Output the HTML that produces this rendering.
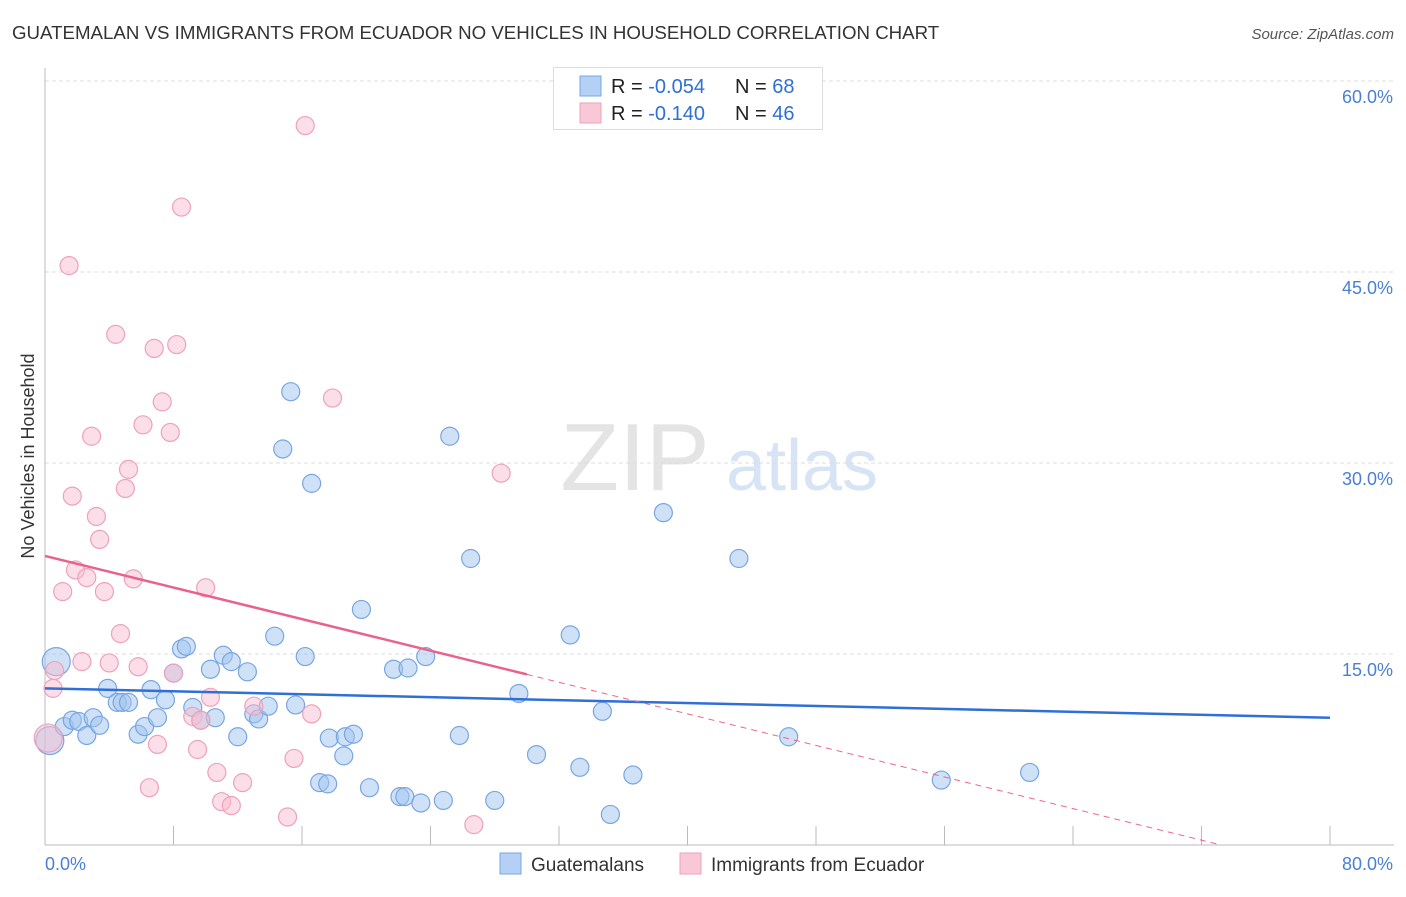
<!DOCTYPE html>
<html><head><meta charset="utf-8"><style>
body{margin:0;background:#fff;font-family:"Liberation Sans",sans-serif}
svg text{font-family:"Liberation Sans",sans-serif}
</style></head><body>
<svg id="c" width="1406" height="892"></svg>
<script>
const blueX=[0.7,0.3,1.2,1.7,2.1,2.6,3.0,3.4,3.9,4.5,4.8,5.2,5.8,6.2,6.6,7.0,7.5,8.0,8.5,8.8,9.2,9.7,10.3,10.6,11.1,11.6,12.0,12.6,13.0,13.3,13.9,14.3,14.8,15.3,15.6,16.2,16.6,17.1,17.6,17.7,18.6,18.7,19.2,19.7,20.2,21.7,22.1,22.4,22.6,23.4,23.7,24.8,25.2,25.8,26.5,28.0,29.5,30.6,32.7,33.3,34.7,35.2,36.6,38.5,43.2,46.3,55.8,61.3];
const blueY=[14.4,8.2,9.3,9.8,9.7,8.6,10.0,9.4,12.3,11.2,11.2,11.2,8.7,9.3,12.2,10.0,11.4,13.5,15.4,15.6,10.8,9.8,13.8,10.0,14.9,14.4,8.5,13.6,10.3,9.9,10.9,16.4,31.1,35.6,11.0,14.8,28.4,4.9,4.8,8.4,7.0,8.5,8.7,18.5,4.5,13.8,3.8,3.8,13.9,3.3,14.8,3.5,32.1,8.6,22.5,3.5,11.9,7.1,16.5,6.1,10.5,2.4,5.5,26.1,22.5,8.5,5.1,5.7];
const blueBig=[0,1];
const pinkX=[16.2,8.5,1.5,4.4,6.8,8.2,7.3,17.9,2.9,6.1,7.8,5.2,28.4,1.7,5.0,3.2,3.4,1.9,2.6,1.1,3.7,5.5,10.0,4.7,2.3,4.0,5.8,8.0,0.6,0.5,10.3,13.0,16.6,9.2,9.7,7.0,9.5,15.5,10.7,12.3,6.5,11.0,11.6,15.1,26.7,0.2];
const pinkY=[56.5,50.1,45.5,40.1,39.0,39.3,34.8,35.1,32.1,33.0,32.4,29.5,29.2,27.4,28.0,25.8,24.0,21.6,21.0,19.9,19.9,20.9,20.2,16.6,14.4,14.3,14.0,13.5,13.7,12.3,11.6,10.9,10.3,10.1,9.8,7.9,7.5,6.8,5.7,4.9,4.5,3.4,3.1,2.2,1.6,8.4];
const pinkBig=[45];
const blueTrend=[12.3,-0.0288];
const pinkTrend=[22.7,-0.31];
const yTicks=[15,30,45,60];
const yTickLabels=["15.0%","30.0%","45.0%","60.0%"];
const xTicks=[0,8,16,24,32,40,48,56,64,72,80];

const NS="http://www.w3.org/2000/svg";
const svg=document.getElementById('c');
const X=v=>45+v*(1285/80);
const Y=v=>845-v*(764/60);
function el(t,a,p){const e=document.createElementNS(NS,t);for(const k in a)e.setAttribute(k,a[k]);(p||svg).appendChild(e);return e;}

let t=el('text',{x:12,y:39,'font-size':18.7,fill:'#333'});t.textContent='GUATEMALAN VS IMMIGRANTS FROM ECUADOR NO VEHICLES IN HOUSEHOLD CORRELATION CHART';

t=el('text',{x:1394,y:39,'font-size':15,fill:'#555','text-anchor':'end','font-style':'italic'});t.textContent='Source: ZipAtlas.com';


t=el('text',{x:635,y:490,'font-size':96,fill:'#e4e4e4','text-anchor':'middle','font-family':'Liberation Serif'});t.textContent='ZIP';

t=el('text',{x:802,y:490,'font-size':72,fill:'#d6e4f6','text-anchor':'middle'});t.textContent='atlas';


yTicks.forEach((v,i)=>{
  const g=el('line',{x1:45,x2:1394,y1:Y(v),y2:Y(v),stroke:'#ddd','stroke-dasharray':'4,3'});
  
  const l=el('text',{x:1393,y:Y(v)+22,'font-size':18,fill:'#4a7fd4','text-anchor':'end'});l.textContent=yTickLabels[i];
  
});
let a=el('line',{x1:45,x2:45,y1:68,y2:845,stroke:'#bbb'});
a=el('line',{x1:45,x2:1394,y1:845,y2:845,stroke:'#bbb'});
xTicks.forEach(v=>{if(v===0)return;const k=el('line',{x1:X(v),x2:X(v),y1:826,y2:845,stroke:'#bbb'});
  });
t=el('text',{x:45,y:870,'font-size':18,fill:'#4a7fd4'});t.textContent='0.0%';

t=el('text',{x:1393,y:870,'font-size':18,fill:'#4a7fd4','text-anchor':'end'});t.textContent='80.0%';

t=el('text',{x:0,y:0,'font-size':18,fill:'#333','text-anchor':'middle',transform:'translate(34,456) rotate(-90)'});t.textContent='No Vehicles in Household';


function pts(xs,ys,big,fill,stroke,name){
  xs.forEach((x,i)=>{const c=el('circle',{cx:X(x),cy:Y(ys[i]),r:big.includes(i)?14:9,fill:fill,stroke:stroke,'stroke-width':1.2});
    });
}
pts(blueX,blueY,blueBig,'rgba(160,196,240,0.5)','#78a6e2','guatemalan-point');
pts(pinkX,pinkY,pinkBig,'rgba(248,190,208,0.5)','#eea2ba','ecuador-point');

let ln=el('line',{x1:X(0),y1:Y(blueTrend[0]),x2:X(80),y2:Y(blueTrend[0]+blueTrend[1]*80),stroke:'#2f6fd6','stroke-width':2.5});

ln=el('line',{x1:X(0),y1:Y(pinkTrend[0]),x2:X(30),y2:Y(pinkTrend[0]+pinkTrend[1]*30),stroke:'#e8628c','stroke-width':2.5});

const xEnd=-pinkTrend[0]/pinkTrend[1];
ln=el('line',{x1:X(30),y1:Y(pinkTrend[0]+pinkTrend[1]*30),x2:X(xEnd),y2:Y(0),stroke:'#e8628c','stroke-width':1,'stroke-dasharray':'6,5'});


const lg=el('g',{});
el('rect',{x:553.5,y:67.5,width:269,height:62,fill:'#fff',stroke:'#ddd'},lg);
[['#b5d0f5','#78a6e2','-0.054','68',86],['#f9c8d6','#eea2ba','-0.140','46',113]].forEach(r=>{
  const s=el('rect',{x:580,y:r[4]-10,width:21,height:20,fill:r[0],stroke:r[1]},lg);
  
  const tx=el('text',{x:611,y:r[4]+7,'font-size':20,fill:'#222'},lg);
  tx.innerHTML='R = <tspan fill="#2f6fd6">'+(r[2]==='-0.140'?' ':'')+r[2]+'</tspan><tspan x="735">N = </tspan><tspan fill="#2f6fd6">'+r[3]+'</tspan>';
  
});
[['#b5d0f5','#78a6e2','Guatemalans',500],['#f9c8d6','#eea2ba','Immigrants from Ecuador',680]].forEach(r=>{
  const s=el('rect',{x:r[3],y:853,width:21,height:21,fill:r[0],stroke:r[1]});
  
  const tx=el('text',{x:r[3]+31,y:871,'font-size':19,fill:'#333'});tx.textContent=r[2];
  
});
</script>
</body></html>
